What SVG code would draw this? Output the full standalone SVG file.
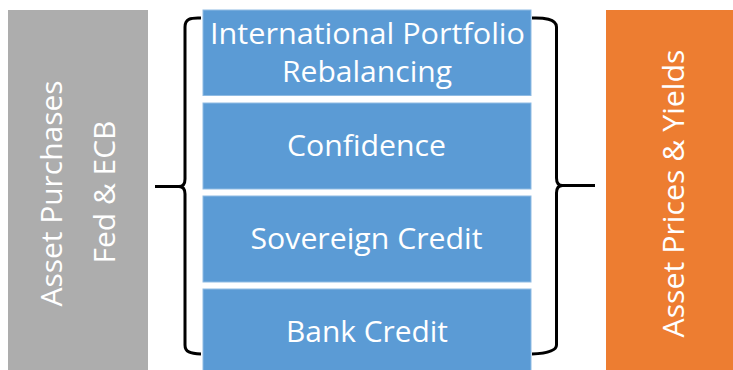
<svg xmlns="http://www.w3.org/2000/svg" width="733" height="370" viewBox="0 0 733 370">
  <style>
    .lbl { font-family: "Open Sans", "Liberation Sans", sans-serif; font-size: 30px; fill: #ffffff; }
    .mid { text-anchor: middle; }
    .box { fill: #5B9BD5; stroke: #8FBBE3; stroke-width: 1; }
    .brace { fill: none; stroke: #000000; stroke-width: 3; stroke-linejoin: round; stroke-linecap: butt; }
  </style>
  <rect width="733" height="370" fill="#ffffff"/>

  <!-- source: asset purchases -->
  <g id="asset-purchases">
    <rect x="8" y="10" width="140" height="360" fill="#ADADAD"/>
    <text class="lbl mid" transform="translate(62,193.5) rotate(-90)" textLength="226" lengthAdjust="spacingAndGlyphs">Asset Purchases</text>
    <text class="lbl mid" transform="translate(115,192) rotate(-90)" textLength="143" lengthAdjust="spacingAndGlyphs">Fed &amp; ECB</text>
  </g>

  <!-- transmission channels -->
  <g id="portfolio-rebalancing">
    <rect class="box" x="203" y="10" width="328" height="85.5"/>
    <text class="lbl mid" x="367.5" y="43.5" textLength="315" lengthAdjust="spacingAndGlyphs">International Portfolio</text>
    <text class="lbl mid" x="367" y="81.5" textLength="170" lengthAdjust="spacingAndGlyphs">Rebalancing</text>
  </g>
  <g id="confidence">
    <rect class="box" x="203" y="103" width="328" height="86"/>
    <text class="lbl mid" x="366.5" y="156" textLength="159" lengthAdjust="spacingAndGlyphs">Confidence</text>
  </g>
  <g id="sovereign-credit">
    <rect class="box" x="203" y="196" width="328" height="86"/>
    <text class="lbl mid" x="366.5" y="249" textLength="232" lengthAdjust="spacingAndGlyphs">Sovereign Credit</text>
  </g>
  <g id="bank-credit">
    <rect class="box" x="203" y="289" width="328" height="82"/>
    <text class="lbl mid" x="367" y="341.5" textLength="162" lengthAdjust="spacingAndGlyphs">Bank Credit</text>
  </g>

  <!-- outcome: asset prices -->
  <g id="asset-prices">
    <rect x="606" y="10" width="127" height="360" fill="#ED7D31"/>
    <text class="lbl mid" transform="translate(683.5,193.5) rotate(-90)" textLength="288" lengthAdjust="spacingAndGlyphs">Asset Prices &amp; Yields</text>
  </g>

  <!-- braces linking source, channels and outcome -->
  <g id="connectors">
    <path class="brace" d="M201,18 C190,17.5 185,19 185,27 L185,179 C185,184 183,186.5 179,186.5 C183,186.5 185,189 185,194 L185,345 C185,352 190,353.5 201,354"/>
    <path class="brace" d="M155,186.5 L181,186.5"/>
    <path class="brace" d="M532,18 C543,17.5 556.5,19 556.5,27 L556.5,178 C556.5,183 558.5,185.5 562.5,185.5 C558.5,185.5 556.5,188 556.5,193 L556.5,345 C556.5,352 543,353.5 532,354"/>
    <path class="brace" d="M560,185.5 L595,185.5"/>
  </g>
</svg>
